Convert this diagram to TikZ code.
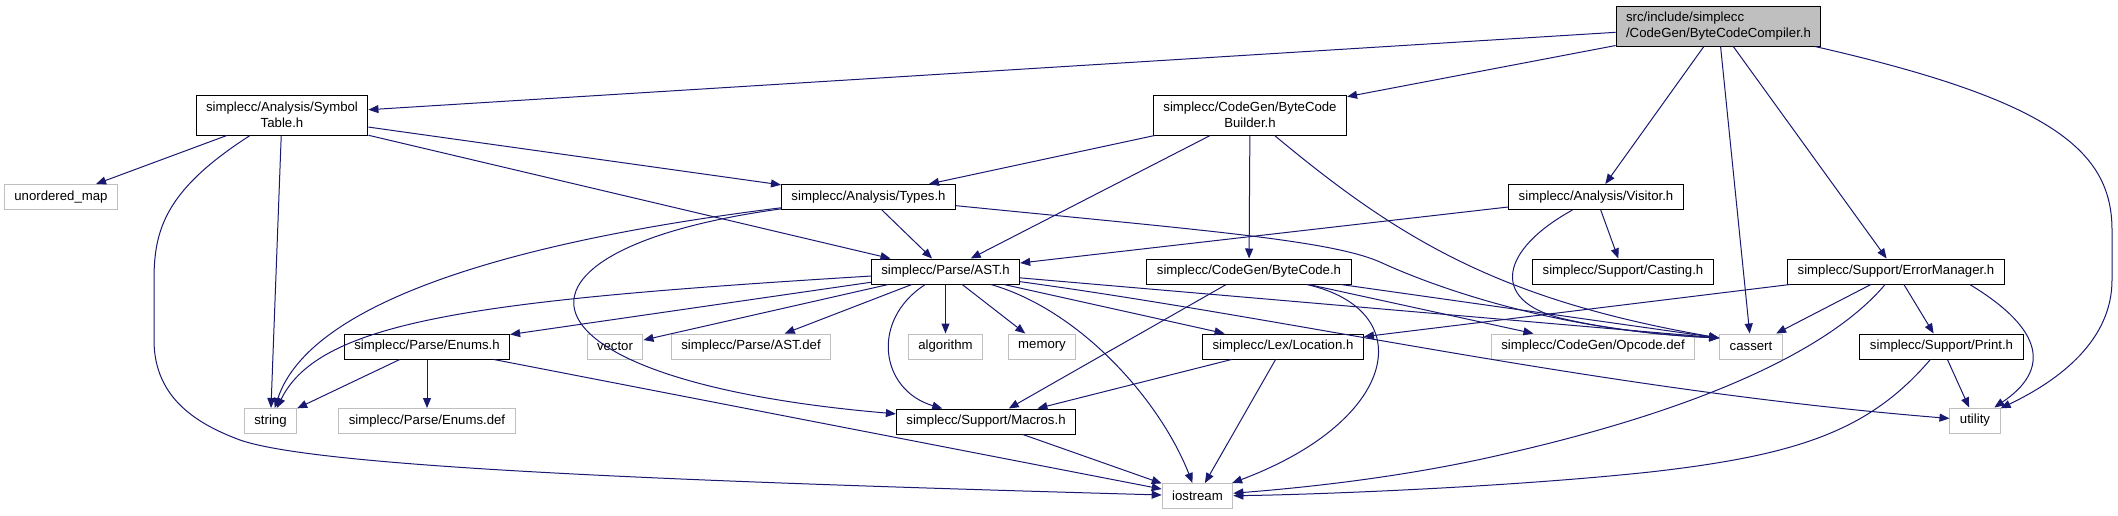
\documentclass[tikz,border=0pt]{standalone}
\usepackage{fontspec}
\setmainfont{Liberation Sans}
\usetikzlibrary{arrows.meta}
\definecolor{edgeblue}{HTML}{191970}
\definecolor{extgray}{HTML}{BFBFBF}

\begin{document}
\begin{tikzpicture}[x=1pt,y=-1pt,
  box/.style={draw,line width=1pt,fill=white,minimum height=25pt,inner xsep=10pt,inner ysep=2pt,font=\fontsize{13.2}{15.5}\selectfont},
  two/.style={box,align=center,minimum height=40pt},
  ext/.style={box,draw=extgray},
  dep/.style={edgeblue,line width=1pt,-{Triangle[length=10pt,width=8pt]}}]
\useasboundingbox (0,0) rectangle (2118,515);

\node[two,fill=extgray,align=left] (root) at (1718.5,26) {src/include/simplecc\\/CodeGen/ByteCodeCompiler.h};
\node[two] (symtab) at (282,115) {simplecc/Analysis/Symbol\\Table.h};
\node[two] (builder) at (1250,115) {simplecc/CodeGen/ByteCode\\Builder.h};
\node[ext] (unmap) at (61,197) {unordered\_map};
\node[box] (types) at (868.5,197) {simplecc/Analysis/Types.h};
\node[box] (visitor) at (1596,197) {simplecc/Analysis/Visitor.h};
\node[box] (ast) at (945.5,271.5) {simplecc/Parse/AST.h};
\node[box] (bytecode) at (1249,271.5) {simplecc/CodeGen/ByteCode.h};
\node[box] (casting) at (1623,271.5) {simplecc/Support/Casting.h};
\node[box] (errmgr) at (1896,271.5) {simplecc/Support/ErrorManager.h};
\node[box] (enums) at (427,346.5) {simplecc/Parse/Enums.h};
\node[ext] (vector) at (615,346.5) {vector};
\node[ext] (astdef) at (751,346.5) {simplecc/Parse/AST.def};
\node[ext] (algorithm) at (945.5,346.5) {algorithm};
\node[ext] (memory) at (1042,346.5) {memory};
\node[box] (location) at (1283,346.5) {simplecc/Lex/Location.h};
\node[ext] (opdef) at (1593,346.5) {simplecc/CodeGen/Opcode.def};
\node[ext] (cassert) at (1751,346.5) {cassert};
\node[box] (print) at (1941.5,346.5) {simplecc/Support/Print.h};
\node[ext] (string) at (270.5,421) {string};
\node[ext] (enumsdef) at (427,421) {simplecc/Parse/Enums.def};
\node[box] (macros) at (986,421.5) {simplecc/Support/Macros.h};
\node[ext] (utility) at (1975,420.5) {utility};
\node[ext] (iostream) at (1197.5,496) {iostream};

\draw[dep] (root) -- (symtab);
\draw[dep] (root) -- (builder);
\draw[dep] (root) -- (visitor);
\draw[dep] (root) -- (cassert);
\draw[dep] (root) -- (errmgr);
\draw[dep] (root.-12) .. controls (2050,100) and (2112,150) .. (2112,230) -- (2112,280) .. controls (2112,340) and (2060,380) .. (utility);

\draw[dep] (symtab) -- (unmap);
\draw[dep] (symtab) .. controls (165,190) and (154,230) .. (154,280) -- (154,340) .. controls (154,400) and (200,425) .. (240,440) .. controls (320,468) and (700,482) .. (iostream);
\draw[dep] (symtab) -- (string);
\draw[dep] (symtab) -- (types);
\draw[dep] (symtab) -- (ast);

\draw[dep] (builder) -- (types);
\draw[dep] (builder) -- (ast);
\draw[dep] (builder) -- (bytecode);
\draw[dep] (builder) .. controls (1400,240) and (1500,300) .. (cassert.165);

\draw[dep] (types) -- (ast);
\draw[dep] (types) .. controls (520,240) and (310,300) .. (string);
\draw[dep] (types) .. controls (480,250) and (500,380) .. (macros);
\draw[dep] (types) .. controls (1200,230) and (1330,240) .. (1380,262) .. controls (1430,285) and (1550,330) .. (cassert.165);

\draw[dep] (visitor) -- (ast);
\draw[dep] (visitor) -- (casting);
\draw[dep] (visitor) .. controls (1500,250) and (1490,300) .. (1560,318) .. controls (1620,332) and (1680,336) .. (cassert.165);

\draw[dep] (ast) .. controls (480,300) and (320,320) .. (string);
\draw[dep] (ast) -- (enums);
\draw[dep] (ast) -- (vector);
\draw[dep] (ast) -- (astdef);
\draw[dep] (ast) -- (algorithm);
\draw[dep] (ast) -- (memory);
\draw[dep] (ast) .. controls (870,320) and (880,390) .. (macros);
\draw[dep] (ast) .. controls (1080,310) and (1160,400) .. (iostream);
\draw[dep] (ast) -- (location);
\draw[dep] (ast) -- (cassert.165);
\draw[dep] (ast) .. controls (1300,320) and (1600,390) .. (utility);

\draw[dep] (bytecode) -- (macros);
\draw[dep] (bytecode) .. controls (1420,310) and (1400,420) .. (iostream);
\draw[dep] (bytecode) -- (opdef);
\draw[dep] (bytecode) -- (cassert.165);

\draw[dep] (errmgr) -- (location);
\draw[dep] (errmgr) -- (cassert);
\draw[dep] (errmgr) .. controls (1830,350) and (1700,410) .. (1500,455) .. controls (1400,478) and (1300,488) .. (iostream);
\draw[dep] (errmgr) -- (print);
\draw[dep] (errmgr.-10) .. controls (2045,330) and (2050,370) .. (utility);

\draw[dep] (print) -- (utility);
\draw[dep] (print) .. controls (1870,430) and (1800,455) .. (1650,472) .. controls (1500,488) and (1300,495) .. (iostream);

\draw[dep] (location) -- (macros);
\draw[dep] (location) -- (iostream);

\draw[dep] (enums) -- (string);
\draw[dep] (enums) -- (enumsdef);
\draw[dep] (enums) -- (iostream);

\draw[dep] (macros) -- (iostream);
\end{tikzpicture}
\end{document}
